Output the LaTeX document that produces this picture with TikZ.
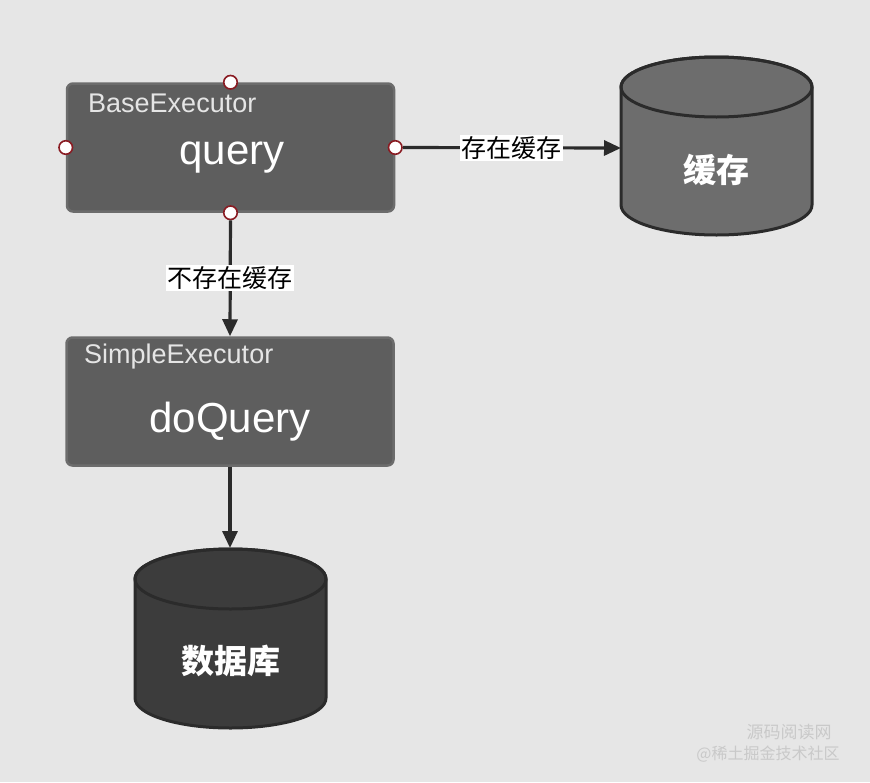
\documentclass[tikz,border=0pt]{standalone}
\usepackage{fontspec}
\setmainfont{Liberation Sans}
\newfontfamily\cjk{Noto Sans CJK SC}
\usetikzlibrary{arrows.meta}
\definecolor{bg}{HTML}{E6E6E6}
\definecolor{boxfill}{HTML}{5E5E5E}
\definecolor{boxedge}{HTML}{6C6C6C}
\definecolor{linec}{HTML}{2B2B2B}
\definecolor{portc}{HTML}{8A1C23}
\definecolor{cylA}{HTML}{6D6D6D}
\definecolor{cylB}{HTML}{3C3C3C}
\definecolor{wmc}{HTML}{C9C9C9}
\tikzset{
  box/.style={draw=boxedge, line width=2.5pt, fill=boxfill, rounded corners=6pt, minimum width=327pt, minimum height=128pt, inner sep=0pt},
  hdr/.style={anchor=west, text=white!90!black, font=\fontsize{27}{27}\selectfont, inner sep=0pt},
  big/.style={text=white, font=\fontsize{42}{42}\selectfont, inner sep=0pt},
  port/.style={circle, draw=portc, line width=1.6pt, fill=white, minimum size=13.5pt, inner sep=0pt},
  conn/.style={draw=linec, line width=3.2pt, -{Triangle[length=17pt,width=15pt]}},
  lbl/.style={fill=white, text=black, inner sep=1.5pt, font=\cjk\fontsize{25}{25}\selectfont},
  cylbody/.style={draw=linec, line width=3pt},
  cyltxt/.style={text=white, font=\cjk\bfseries\fontsize{33}{33}\selectfont, inner sep=0pt},
  wm/.style={text=wmc, font=\cjk\fontsize{17}{17}\selectfont, inner sep=0pt}
}
\begin{document}
\begin{tikzpicture}[x=1pt,y=-1pt]
\fill[bg] (0,0) rectangle (870,782);
\useasboundingbox (0,0) rectangle (870,782);

% BaseExecutor box
\node[box] (base) at (230.5,147.5) {};
\node[hdr] (basehdr) at (88,103) {BaseExecutor};
\node[big, anchor=base] (query) at (232,164) {query};
\node[port] (pT) at (base.north) {};
\node[port] (pL) at (base.west) {};
\node[port] (pR) at (base.east) {};
\node[port] (pB) at (base.south) {};

% SimpleExecutor box
\node[box] (simple) at (230,401.5) {};
\node[hdr] (simplehdr) at (84,357) {SimpleExecutor};
\node[big, anchor=base] (doquery) at (230,432) {doQuery};

% Cache cylinder
\filldraw[cylbody, fill=cylA] (621,87) -- (621,205)
  arc[start angle=180, end angle=360, x radius=95.5pt, y radius=30pt]
  -- (812,87)
  arc[start angle=0, end angle=180, x radius=95.5pt, y radius=30pt] -- cycle;
\draw[cylbody] (716.5,87) ellipse[x radius=95.5pt, y radius=30pt];
\node[cyltxt] (cache) at (716.5,170) {缓存};
\coordinate (cacheW) at (621,148);

% Database cylinder
\filldraw[cylbody, fill=cylB] (135,579) -- (135,698)
  arc[start angle=180, end angle=360, x radius=95.5pt, y radius=30pt]
  -- (326,579)
  arc[start angle=0, end angle=180, x radius=95.5pt, y radius=30pt] -- cycle;
\draw[cylbody] (230.5,579) ellipse[x radius=95.5pt, y radius=30pt];
\node[cyltxt] (db) at (230.5,661) {数据库};
\coordinate (dbTop) at (230,548);

% connectors
\draw[conn] (pR) -- node[lbl] (l1) {存在缓存} (cacheW);
\draw[conn] (pB) -- node[lbl] (l2) {不存在缓存} (simple.north);
\draw[conn] (simple.south) -- (dbTop);

% watermark
\node[wm] (wm1) at (789,732) {源码阅读网};
\node[wm, font=\cjk\fontsize{16}{16}\selectfont] (wm2) at (768,754) {@稀土掘金技术社区};
\end{tikzpicture}
\end{document}
